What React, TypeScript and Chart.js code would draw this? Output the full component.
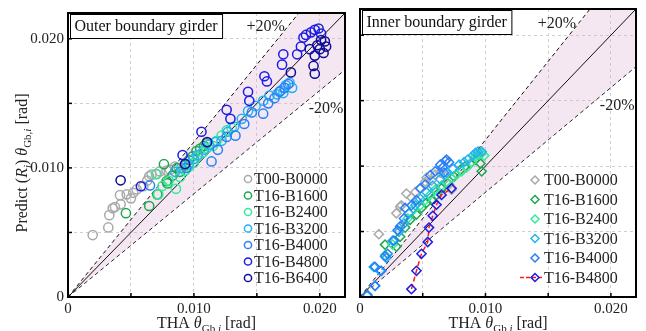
import React, { useEffect, useRef } from 'react';
import { Chart, registerables } from 'chart.js';

Chart.register(...registerables);

const SERIF = '"Liberation Serif", "Times New Roman", Times, serif';

// ---- axes (rad) ----
const AXIS_MIN = 0;
const AXIS_MAX = 0.022;
const TICK_STEP = 0.005;
const TICK_LABELS = ['0', '', '0.010', '', '0.020'];
const BAND_RATIO = 0.2; // ±20 % band around 1:1
const BAND_TEXT = ['+20%', '-20%'];
const PLUS_LABEL_AT = [0.0157, 0.0209];
const MINUS_LABEL_AT = [0.0205, 0.0146];

const PANEL_TITLES = ['Outer boundary girder', 'Inner boundary girder'];

// ---- series ----
const outerLabels = ['T00-B0000', 'T16-B1600', 'T16-B2400', 'T16-B3200', 'T16-B4000', 'T16-B4800', 'T16-B6400'];
const outerColors = ['#a9a9a9', '#1ea64f', '#36e89c', '#24b2f2', '#2b7ff7', '#1c1ce6', '#0d0d96'];
const innerLabels = ['T00-B0000', 'T16-B1600', 'T16-B2400', 'T16-B3200', 'T16-B4000', 'T16-B4800'];
const innerColors = ['#a9a9a9', '#1ea64f', '#36e89c', '#24b2f2', '#2b7ff7', '#1c1ce6'];
const innerLineColor = '#ff1a1a';

// Outer boundary girder: [THA, Predict] in rad
const outerT00B0000 = [
  [0.00196, 0.0048], [0.0032, 0.00539], [0.00328, 0.00634], [0.00355, 0.00687], [0.00373, 0.00697],
  [0.00418, 0.00718], [0.00413, 0.00789], [0.00466, 0.00795], [0.005, 0.00764], [0.00518, 0.00807],
  [0.00545, 0.00833], [0.00598, 0.00858], [0.00629, 0.00902], [0.00645, 0.00935], [0.00664, 0.00948],
  [0.00704, 0.00952], [0.0073, 0.00973], [0.00783, 0.00979], [0.0081, 0.00986], [0.00849, 0.0101],
];
const outerT16B1600 = [
  [0.0046, 0.00649], [0.00645, 0.00705], [0.00709, 0.00795], [0.00762, 0.01029], [0.00783, 0.00897],
  [0.0079, 0.0088], [0.0083, 0.0094], [0.00863, 0.00998], [0.0089, 0.0097], [0.0093, 0.0102],
  [0.0096, 0.0106], [0.0099, 0.0109], [0.0102, 0.0113], [0.0105, 0.0115], [0.0108, 0.0117], [0.011, 0.0119],
];
const outerT16B2400 = [
  [0.00698, 0.00952], [0.00717, 0.00795], [0.0075, 0.0086], [0.008, 0.009], [0.00857, 0.00838],
  [0.0089, 0.0093], [0.0093, 0.0098], [0.0096, 0.0101], [0.01, 0.0104], [0.0103, 0.0109],
  [0.0107, 0.0112], [0.011, 0.0115], [0.0115, 0.0117], [0.0118, 0.0121], [0.0122, 0.0125],
  [0.0126, 0.0129], [0.013, 0.0131],
];
const outerT16B3200 = [
  [0.0085, 0.0097], [0.009, 0.01], [0.0096, 0.0103], [0.01, 0.0107], [0.0103, 0.011],
  [0.0108, 0.0114], [0.0112, 0.0118], [0.0117, 0.012], [0.0122, 0.0121], [0.0127, 0.0128],
  [0.0132, 0.0132], [0.0138, 0.0138], [0.0143, 0.0144], [0.0149, 0.0148], [0.0155, 0.0152],
  [0.016, 0.0156], [0.0166, 0.0157], [0.0169, 0.016], [0.0173, 0.0164], [0.0176, 0.0166],
  [0.0178, 0.0162], [0.0171, 0.0158],
];
const outerT16B4000 = [
  [0.00651, 0.00864], [0.0094, 0.01], [0.0114, 0.0105], [0.0119, 0.0114], [0.0126, 0.0124],
  [0.0133, 0.0125], [0.014, 0.0134], [0.0146, 0.0143], [0.0155, 0.0142], [0.0159, 0.015],
  [0.0164, 0.0154], [0.0168, 0.0159], [0.0172, 0.0162], [0.0175, 0.0165],
];
const outerT16B4800 = [
  [0.00579, 0.00858], [0.0091, 0.011], [0.0106, 0.0128], [0.0126, 0.0145], [0.0129, 0.0138],
  [0.0143, 0.0159], [0.0144, 0.0152], [0.0156, 0.0171], [0.0158, 0.0167], [0.0171, 0.0188],
  [0.017, 0.018], [0.0182, 0.0188], [0.0185, 0.0194], [0.0187, 0.0201], [0.0189, 0.0203],
  [0.0193, 0.0205], [0.0196, 0.0207], [0.0199, 0.0208], [0.0201, 0.0204],
];
const outerT16B6400 = [
  [0.00418, 0.00904], [0.0093, 0.0103], [0.01105, 0.012], [0.0177, 0.0174], [0.0196, 0.0187],
  [0.0195, 0.0179], [0.0196, 0.0173], [0.02, 0.0192], [0.0203, 0.0189], [0.0205, 0.0194],
  [0.0204, 0.0198], [0.0201, 0.0199], [0.0198, 0.0195], [0.0192, 0.0192],
];

// Inner boundary girder: [THA, Predict] in rad
const innerT00B0000 = [
  [0.0015, 0.0048], [0.0029, 0.0064], [0.0032, 0.0069], [0.0033, 0.007], [0.0037, 0.0079],
  [0.0041, 0.0076], [0.0044, 0.008], [0.0048, 0.0083], [0.0052, 0.0088], [0.0053, 0.0091],
  [0.0057, 0.0089], [0.006, 0.00935], [0.0064, 0.0095], [0.0068, 0.0092], [0.0073, 0.0082], [0.0071, 0.0086],
];
const innerT16B1600 = [
  [0.002, 0.004], [0.0029, 0.00385], [0.0032, 0.0046], [0.0036, 0.0053], [0.004, 0.0059],
  [0.0045, 0.0063], [0.0049, 0.0068], [0.0053, 0.0072], [0.0057, 0.0074], [0.0061, 0.0078],
  [0.0065, 0.0083], [0.007, 0.0087], [0.0075, 0.0092], [0.008, 0.0097], [0.0084, 0.01],
  [0.0088, 0.0102], [0.0092, 0.0105], [0.0096, 0.0102], [0.0097, 0.0096], [0.0094, 0.0109],
];
const innerT16B2400 = [
  [0.002, 0.0032], [0.0026, 0.004], [0.0031, 0.005], [0.0038, 0.006], [0.0043, 0.0067],
  [0.0048, 0.007], [0.0052, 0.0074], [0.0056, 0.0078], [0.006, 0.0082], [0.0065, 0.0085],
  [0.0069, 0.0088], [0.0073, 0.0091], [0.0077, 0.00935], [0.0081, 0.0096], [0.0085, 0.0099],
  [0.0089, 0.0103], [0.0092, 0.01075], [0.0095, 0.0109], [0.0097, 0.011], [0.0099, 0.0108],
];
const innerT16B3200 = [
  [0.00055, 0.0001], [0.0012, 0.00085], [0.0011, 0.0023], [0.0016, 0.002], [0.0021, 0.003],
  [0.0026, 0.0043], [0.0031, 0.005], [0.0035, 0.0056], [0.0039, 0.0064], [0.0044, 0.007],
  [0.0048, 0.0075], [0.0053, 0.008], [0.0058, 0.0085], [0.0064, 0.009], [0.0069, 0.0095],
  [0.0074, 0.0098], [0.0079, 0.0101], [0.0083, 0.0103], [0.0086, 0.0105], [0.009, 0.0108],
  [0.0092, 0.011], [0.0094, 0.0111], [0.0097, 0.0111],
];
const innerT16B4000 = [
  [0.0006, 0.00015], [0.0012, 0.00085], [0.0012, 0.0023], [0.0017, 0.002], [0.002, 0.0031],
  [0.0022, 0.0033], [0.0027, 0.0043], [0.003, 0.0051], [0.0032, 0.0054], [0.0035, 0.006],
  [0.0036, 0.0068], [0.0041, 0.007], [0.0045, 0.0074], [0.0048, 0.0083], [0.0052, 0.0086],
  [0.0056, 0.0093], [0.006, 0.0096], [0.0064, 0.0101], [0.0066, 0.0099], [0.0068, 0.0104],
  [0.0069, 0.0105], [0.0071, 0.0103], [0.0067, 0.0095],
];
const innerT16B4800 = [
  [0.0041, 0.0006], [0.0045, 0.002], [0.0049, 0.0033], [0.0054, 0.0042], [0.0055, 0.0053],
  [0.0058, 0.0062], [0.0061, 0.00705], [0.0065, 0.0078], [0.0073, 0.0083],
];

const outerData = [outerT00B0000, outerT16B1600, outerT16B2400, outerT16B3200, outerT16B4000, outerT16B4800, outerT16B6400];
const innerData = [innerT00B0000, innerT16B1600, innerT16B2400, innerT16B3200, innerT16B4000, innerT16B4800];

type Part = { t: string; it?: boolean; sub?: boolean };
const Y_TITLE: Part[] = [
  { t: 'Predict (' }, { t: 'R', it: true }, { t: 'i', it: true, sub: true }, { t: ') ' },
  { t: 'θ', it: true }, { t: 'Gb,', sub: true }, { t: 'i', it: true, sub: true }, { t: ' [rad]' },
];
const X_TITLE: Part[] = [
  { t: 'THA ' }, { t: 'θ', it: true }, { t: 'Gb,', sub: true }, { t: 'i', it: true, sub: true }, { t: ' [rad]' },
];

interface PanelSpec {
  title: string;
  labels: string[];
  colors: string[];
  data: number[][][];
  pointStyle: 'circle' | 'rectRot';
  lineSeries: number;
  showYLabels: boolean;
  yAxisWidth: number;
  padRight: number;
  legendFromRight: number;
  legendFromBottom: number;
  legendGap: number;
  legendTextGap: number;
  markerRadius: number;
  legendRadius: number;
}

function drawRich(ctx: CanvasRenderingContext2D, parts: Part[], cx: number, cy: number, size: number, rotate: boolean) {
  const sub = Math.round(size * 0.68);
  const fontFor = (p: Part) => `${p.it ? 'italic ' : ''}${p.sub ? sub : size}px ${SERIF}`;
  const widths = parts.map((p) => {
    ctx.font = fontFor(p);
    return ctx.measureText(p.t).width;
  });
  const total = widths.reduce((a, b) => a + b, 0);
  ctx.save();
  ctx.translate(cx, cy);
  if (rotate) ctx.rotate(-Math.PI / 2);
  ctx.textAlign = 'left';
  ctx.textBaseline = 'alphabetic';
  const base = size * 0.33;
  let x = -total / 2;
  parts.forEach((p, i) => {
    ctx.font = fontFor(p);
    ctx.fillText(p.t, x, p.sub ? base + size * 0.22 : base);
    x += widths[i];
  });
  ctx.restore();
}

function drawMarker(ctx: CanvasRenderingContext2D, style: string, x: number, y: number, r: number) {
  ctx.beginPath();
  if (style === 'circle') {
    ctx.arc(x, y, r, 0, Math.PI * 2);
  } else {
    ctx.moveTo(x, y - r);
    ctx.lineTo(x + r, y);
    ctx.lineTo(x, y + r);
    ctx.lineTo(x - r, y);
    ctx.closePath();
  }
  ctx.stroke();
}

function decorPlugin(spec: PanelSpec, showYTitle: boolean) {
  return {
    id: 'panelDecor',
    afterDraw(chart: any) {
      const { ctx, chartArea: a, scales } = chart;
      const xs = scales.x;
      const ys = scales.y;
      ctx.save();
      // frame
      ctx.strokeStyle = '#000';
      ctx.lineWidth = 2;
      ctx.setLineDash([]);
      ctx.strokeRect(a.left, a.top, a.right - a.left, a.bottom - a.top);
      // inward ticks
      ctx.lineWidth = 1.5;
      xs.ticks.forEach((t: any) => {
        if (t.value <= AXIS_MIN) return;
        const px = xs.getPixelForValue(t.value);
        ctx.beginPath();
        ctx.moveTo(px, a.bottom);
        ctx.lineTo(px, a.bottom - 4);
        ctx.stroke();
      });
      ys.ticks.forEach((t: any) => {
        if (t.value <= AXIS_MIN) return;
        const py = ys.getPixelForValue(t.value);
        ctx.beginPath();
        ctx.moveTo(a.left, py);
        ctx.lineTo(a.left + 4, py);
        ctx.stroke();
      });
      // band labels
      ctx.fillStyle = '#222';
      ctx.font = `16px ${SERIF}`;
      ctx.textAlign = 'center';
      ctx.textBaseline = 'middle';
      ctx.fillText(BAND_TEXT[0], xs.getPixelForValue(PLUS_LABEL_AT[0]), ys.getPixelForValue(PLUS_LABEL_AT[1]));
      ctx.fillText(BAND_TEXT[1], xs.getPixelForValue(MINUS_LABEL_AT[0]), ys.getPixelForValue(MINUS_LABEL_AT[1]));
      // title box
      ctx.font = `16px ${SERIF}`;
      const tw = ctx.measureText(spec.title).width;
      const bx = a.left + 2;
      const by = a.top + 1;
      const bw = tw + 9;
      const bh = 24;
      ctx.fillStyle = '#fff';
      ctx.fillRect(bx, by, bw, bh);
      ctx.strokeStyle = '#000';
      ctx.lineWidth = 1;
      ctx.strokeRect(bx + 0.5, by + 0.5, bw, bh);
      ctx.fillStyle = '#111';
      ctx.textAlign = 'left';
      ctx.textBaseline = 'middle';
      ctx.fillText(spec.title, bx + 4.5, by + bh / 2 + 1);
      // legend
      const mx = a.right - spec.legendFromRight;
      spec.labels.forEach((lab, i) => {
        const y = a.bottom - spec.legendFromBottom + i * spec.legendGap;
        if (i === spec.lineSeries) {
          ctx.strokeStyle = innerLineColor;
          ctx.lineWidth = 1.5;
          ctx.setLineDash([4, 2]);
          ctx.beginPath();
          ctx.moveTo(mx - 15, y);
          ctx.lineTo(mx + 8, y);
          ctx.stroke();
          ctx.setLineDash([]);
        }
        ctx.strokeStyle = spec.colors[i];
        ctx.lineWidth = 1.5;
        drawMarker(ctx, spec.pointStyle, mx, y, spec.legendRadius);
        ctx.fillStyle = '#222';
        ctx.font = `16px ${SERIF}`;
        ctx.textAlign = 'left';
        ctx.textBaseline = 'middle';
        ctx.fillText(lab, mx + spec.legendTextGap, y + 1);
      });
      // axis titles
      ctx.fillStyle = '#222';
      drawRich(ctx, X_TITLE, (a.left + a.right) / 2, 323, 16, false);
      if (showYTitle) drawRich(ctx, Y_TITLE, 22, 163, 16, true);
      ctx.restore();
    },
  };
}

function buildConfig(spec: PanelSpec, showYTitle: boolean): any {
  const refLine = (ratio: number) => [
    { x: AXIS_MIN, y: AXIS_MIN * ratio },
    { x: AXIS_MAX, y: AXIS_MAX * ratio },
  ];
  const datasets: any[] = [
    {
      type: 'line', label: '+20%', data: refLine(1 + BAND_RATIO), borderColor: '#111', borderWidth: 1,
      borderDash: [4, 3], pointRadius: 0, fill: '+1', backgroundColor: 'rgba(215,170,205,0.28)', order: 100,
    },
    {
      type: 'line', label: '-20%', data: refLine(1 - BAND_RATIO), borderColor: '#111', borderWidth: 1,
      borderDash: [4, 3], pointRadius: 0, fill: false, order: 100,
    },
    {
      type: 'line', label: '1:1', data: refLine(1), borderColor: '#111', borderWidth: 1,
      pointRadius: 0, fill: false, order: 99,
    },
  ];
  spec.data.forEach((pts, i) => {
    const isLine = i === spec.lineSeries;
    datasets.push({
      type: 'scatter',
      label: spec.labels[i],
      data: pts.map((p) => ({ x: p[0], y: p[1] })),
      showLine: isLine,
      borderColor: isLine ? innerLineColor : spec.colors[i],
      borderWidth: 1.5,
      borderDash: isLine ? [5, 3] : [],
      pointBorderColor: spec.colors[i],
      pointBackgroundColor: 'rgba(0,0,0,0)',
      pointBorderWidth: 1.5,
      pointRadius: spec.markerRadius,
      pointStyle: spec.pointStyle,
      order: -i,
    });
  });
  const tickFont = { family: SERIF, size: 15 };
  return {
    type: 'scatter',
    data: { datasets },
    options: {
      animation: false,
      responsive: false,
      devicePixelRatio: 1,
      layout: { padding: { left: 0, right: spec.padRight, top: 9, bottom: 0 } },
      plugins: { legend: { display: false }, tooltip: { enabled: false } },
      scales: {
        x: {
          type: 'linear', min: AXIS_MIN, max: AXIS_MAX,
          ticks: {
            stepSize: TICK_STEP, includeBounds: false, autoSkip: false, maxRotation: 0,
            font: tickFont, color: '#222', padding: 3,
            callback: (_v: any, i: number) => TICK_LABELS[i] ?? '',
          },
          grid: { color: '#cfcfcf', lineWidth: 1, drawTicks: false },
          border: { display: false, dash: [3, 3] },
          afterFit: (s: any) => { s.height = 34; },
        },
        y: {
          type: 'linear', min: AXIS_MIN, max: AXIS_MAX,
          ticks: {
            display: spec.showYLabels, stepSize: TICK_STEP, includeBounds: false, autoSkip: false,
            font: tickFont, color: '#222', padding: 4,
            callback: (_v: any, i: number) => TICK_LABELS[i] ?? '',
          },
          grid: { color: '#cfcfcf', lineWidth: 1, drawTicks: false },
          border: { display: false, dash: [3, 3] },
          afterFit: (s: any) => { s.width = spec.yAxisWidth; },
        },
      },
    },
    plugins: [decorPlugin(spec, showYTitle)],
  };
}

const outerSpec: PanelSpec = {
  title: PANEL_TITLES[0], labels: outerLabels, colors: outerColors, data: outerData,
  pointStyle: 'circle', lineSeries: -1, showYLabels: true, yAxisWidth: 68, padRight: 7,
  legendFromRight: 97, legendFromBottom: 118, legendGap: 16.5, legendTextGap: 6,
  markerRadius: 4.6, legendRadius: 3.6,
};
const innerSpec: PanelSpec = {
  title: PANEL_TITLES[1], labels: innerLabels, colors: innerColors, data: innerData,
  pointStyle: 'rectRot', lineSeries: 5, showYLabels: false, yAxisWidth: 8, padRight: 10,
  legendFromRight: 101, legendFromBottom: 117, legendGap: 19.5, legendTextGap: 9,
  markerRadius: 4.6, legendRadius: 4,
};

function Panel({ spec, left, width, showYTitle }: { spec: PanelSpec; left: number; width: number; showYTitle: boolean }) {
  const ref = useRef<HTMLCanvasElement>(null);
  useEffect(() => {
    const chart = new Chart(ref.current as HTMLCanvasElement, buildConfig(spec, showYTitle));
    return () => chart.destroy();
  }, [spec, showYTitle]);
  return (
    <canvas
      ref={ref}
      width={width}
      height={331}
      style={{ position: 'absolute', left, top: 0, width, height: 331, display: 'block' }}
    />
  );
}

export default function App() {
  return (
    <div style={{ position: 'absolute', left: 0, top: 0, width: 646, height: 331, background: '#fff', overflow: 'hidden' }}>
      <Panel spec={outerSpec} left={0} width={352} showYTitle={true} />
      <Panel spec={innerSpec} left={352} width={294} showYTitle={false} />
    </div>
  );
}
